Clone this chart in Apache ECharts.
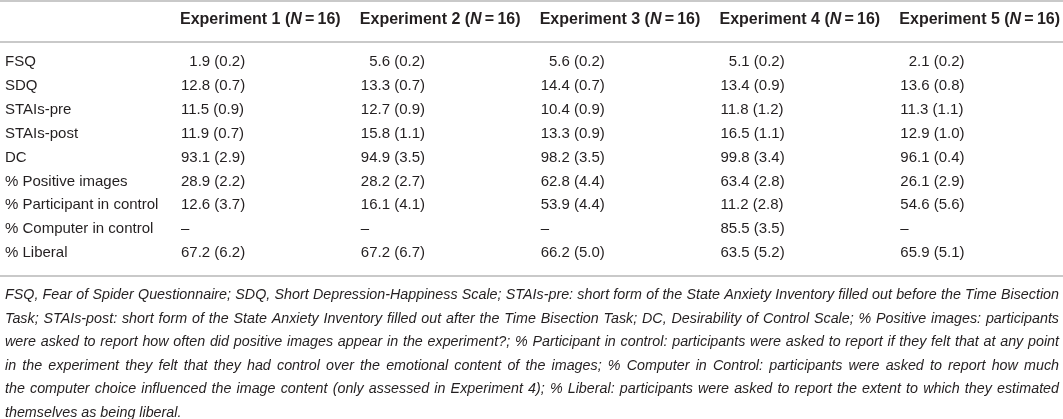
<!DOCTYPE html>
<html>
<head>
<meta charset="utf-8">
<title>Experiments table</title>
<script src="https://cdn.jsdelivr.net/npm/echarts@6/dist/echarts.min.js"></script>
<style>
  html, body {margin: 0; padding: 0; background: #fff;}
  #main {width: 1063px; height: 419px;}
</style>
</head>
<body>
<div id="main"></div>
<script>
// table content
var experiments = ['Experiment 1', 'Experiment 2', 'Experiment 3', 'Experiment 4', 'Experiment 5'];
var sampleN = [16, 16, 16, 16, 16];
var measures = ['FSQ', 'SDQ', 'STAIs-pre', 'STAIs-post', 'DC', '% Positive images',
  '% Participant in control', '% Computer in control', '% Liberal'];

var exp1Mean = [1.9, 12.8, 11.5, 11.9, 93.1, 28.9, 12.6, null, 67.2];
var exp1Sd   = [0.2, 0.7, 0.9, 0.7, 2.9, 2.2, 3.7, null, 6.2];
var exp2Mean = [5.6, 13.3, 12.7, 15.8, 94.9, 28.2, 16.1, null, 67.2];
var exp2Sd   = [0.2, 0.7, 0.9, 1.1, 3.5, 2.7, 4.1, null, 6.7];
var exp3Mean = [5.6, 14.4, 10.4, 13.3, 98.2, 62.8, 53.9, null, 66.2];
var exp3Sd   = [0.2, 0.7, 0.9, 0.9, 3.5, 4.4, 4.4, null, 5.0];
var exp4Mean = [5.1, 13.4, 11.8, 16.5, 99.8, 63.4, 11.2, 85.5, 63.5];
var exp4Sd   = [0.2, 0.9, 1.2, 1.1, 3.4, 2.8, 2.8, 3.5, 5.2];
var exp5Mean = [2.1, 13.6, 11.3, 12.9, 96.1, 26.1, 54.6, null, 65.9];
var exp5Sd   = [0.2, 0.8, 1.1, 1.0, 0.4, 2.9, 5.6, null, 5.1];

var footnoteLines = [
  'FSQ, Fear of Spider Questionnaire; SDQ, Short Depression-Happiness Scale; STAIs-pre: short form of the State Anxiety Inventory filled out before the Time Bisection',
  'Task; STAIs-post: short form of the State Anxiety Inventory filled out after the Time Bisection Task; DC, Desirability of Control Scale; % Positive images: participants',
  'were asked to report how often did positive images appear in the experiment?; % Participant in control: participants were asked to report if they felt that at any point',
  'in the experiment they felt that they had control over the emotional content of the images; % Computer in Control: participants were asked to report how much',
  'the computer choice influenced the image content (only assessed in Experiment 4); % Liberal: participants were asked to report the extent to which they estimated',
  'themselves as being liberal.'
];

var means = [exp1Mean, exp2Mean, exp3Mean, exp4Mean, exp5Mean];
var sds = [exp1Sd, exp2Sd, exp3Sd, exp4Sd, exp5Sd];

var FONT = '"Liberation Sans", Arial, Helvetica, sans-serif';
var INK = '#231f20';
var RULE = '#c9c9c9';

function cellText(j, i) {
  var m = means[j][i], s = sds[j][i];
  if (m == null) return '\u2013';
  // pad one digit width so the decimals line up
  return (m < 10 ? '  ' : '') + m.toFixed(1) + ' (' + s.toFixed(1) + ')';
}

var cells = [];
experiments.forEach(function (e, j) {
  measures.forEach(function (r, i) {
    cells.push([j, i]);
  });
});

// justified footnote, one text per word
function footnoteGraphics() {
  var left = 5, right = 1059, top = 295, step = 23.6;
  var ctx = document.createElement('canvas').getContext('2d');
  ctx.font = 'italic 14px ' + FONT;
  // largest size where the longest line still fits with normal spaces
  var widest = Math.max.apply(null, footnoteLines.map(function (l) { return ctx.measureText(l).width; }));
  var size = Math.min(15, Math.floor(14 * (right - left) / widest * 10) / 10);
  var font = 'italic ' + size + 'px ' + FONT;
  ctx.font = font;
  var out = [];
  footnoteLines.forEach(function (line, k) {
    var words = line.split(' ');
    var widths = words.map(function (w) { return ctx.measureText(w).width; });
    var total = widths.reduce(function (a, b) { return a + b; }, 0);
    var last = k === footnoteLines.length - 1;
    var gap = last ? ctx.measureText(' ').width : (right - left - total) / (words.length - 1);
    var x = left;
    words.forEach(function (w, n) {
      out.push({
        type: 'text', x: x, y: top + k * step, silent: true,
        style: {text: w, fill: INK, font: font, verticalAlign: 'middle'}
      });
      x += widths[n] + gap;
    });
  });
  return out;
}

var chart = echarts.init(document.getElementById('main'), null, {renderer: 'canvas'});

var rules = [1, 42, 276].map(function (y) {
  return {
    type: 'line', silent: true,
    shape: {x1: 0, y1: y, x2: 1063, y2: y},
    style: {stroke: RULE, lineWidth: 2}
  };
});

chart.setOption({
  animation: false,
  grid: {left: 180, right: 162, top: 62, bottom: 166},
  xAxis: {
    type: 'category',
    position: 'top',
    data: experiments,
    boundaryGap: false,
    axisLine: {show: false},
    axisTick: {show: false},
    splitLine: {show: false},
    axisLabel: {
      interval: 0,
      align: 'left',
      verticalAlign: 'middle',
      margin: 42,
      formatter: function (v, idx) {
        return '{b|' + v + ' (}{bi|N}{b|\u2009=\u2009' + sampleN[idx] + ')}';
      },
      rich: {
        b: {fontFamily: FONT, fontSize: 16, fontWeight: 'bold', color: INK},
        bi: {fontFamily: FONT, fontSize: 16, fontWeight: 'bold', fontStyle: 'italic', color: INK}
      }
    }
  },
  yAxis: {
    type: 'category',
    data: measures,
    inverse: true,
    boundaryGap: false,
    axisLine: {show: false},
    axisTick: {show: false},
    splitLine: {show: false},
    axisLabel: {
      interval: 0,
      align: 'left',
      margin: 175,
      fontFamily: FONT,
      fontSize: 15,
      color: INK
    }
  },
  series: [{
    type: 'custom',
    silent: true,
    data: cells,
    renderItem: function (params, api) {
      var j = api.value(0), i = api.value(1);
      var p = api.coord([j, i]);
      return {
        type: 'text',
        x: p[0] + 1,
        y: p[1],
        style: {
          text: cellText(j, i),
          fill: INK,
          font: '15px ' + FONT,
          align: 'left',
          verticalAlign: 'middle'
        }
      };
    }
  }],
  graphic: rules.concat(footnoteGraphics())
});

window.onresize = chart.resize;
</script>
</body>
</html>
